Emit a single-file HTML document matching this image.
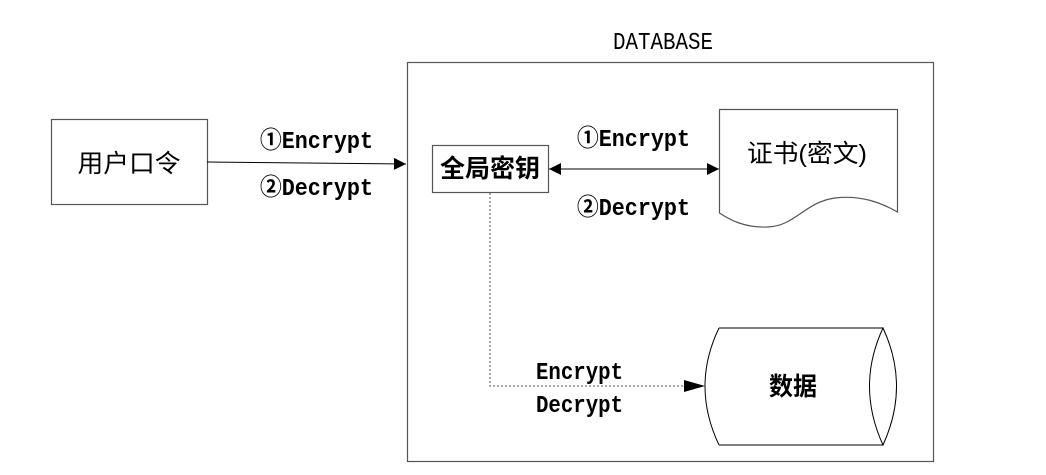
<!DOCTYPE html>
<html><head><meta charset="utf-8"><style>
html,body{margin:0;padding:0;background:#fff;}
svg{display:block;}
.l{font-family:"Liberation Mono","Noto Sans CJK SC",monospace;font-size:24px;fill:#000;font-weight:bold;}
.c{font-family:"Liberation Sans","Noto Sans CJK SC",sans-serif;font-size:25px;fill:#000;font-weight:bold;}
</style></head><body>
<svg width="1046" height="475" viewBox="0 0 1046 475" xmlns="http://www.w3.org/2000/svg">
<defs>
<marker id="ah" viewBox="0 0 10 10" refX="10" refY="5" markerWidth="20" markerHeight="12" markerUnits="userSpaceOnUse" orient="auto-start-reverse"><path d="M0,0 L10,5 L0,10 z" fill="#000"/></marker>
</defs>
<text class="l" x="613" y="49" textLength="100" lengthAdjust="spacingAndGlyphs" style="font-weight:normal">DATABASE</text>
<rect x="407.5" y="62.5" width="526" height="399" fill="none" stroke="#555" stroke-width="1.2"/>
<rect x="51.5" y="119.5" width="156" height="85" fill="none" stroke="#555" stroke-width="1.2"/>
<text class="c" x="129" y="172" text-anchor="middle" style="font-weight:normal" textLength="103" lengthAdjust="spacingAndGlyphs">用户口令</text>
<line x1="207" y1="162" x2="406" y2="164" stroke="#000" stroke-width="1" marker-end="url(#ah)"/>
<text class="l" x="260" y="148" textLength="113" lengthAdjust="spacingAndGlyphs">①Encrypt</text>
<text class="l" x="260" y="195" textLength="113" lengthAdjust="spacingAndGlyphs">②Decrypt</text>
<rect x="432.5" y="145.5" width="116" height="47" fill="none" stroke="#555" stroke-width="1.2"/>
<text class="c" x="490" y="177" text-anchor="middle" textLength="100" lengthAdjust="spacingAndGlyphs">全局密钥</text>
<line x1="549" y1="169" x2="719" y2="169" stroke="#000" stroke-width="1" marker-start="url(#ah)" marker-end="url(#ah)"/>
<text class="l" x="577" y="146" textLength="113" lengthAdjust="spacingAndGlyphs">①Encrypt</text>
<text class="l" x="577" y="215" textLength="113" lengthAdjust="spacingAndGlyphs">②Decrypt</text>
<path d="M719.5,109.5 L897.5,109.5 L897.5,212 C880,202 860,195 835,198 C805,202 795,226 768,227 C745,228 730,220 719.5,213 Z" fill="none" stroke="#555" stroke-width="1.2"/>
<text class="c" x="807" y="162" text-anchor="middle" style="font-weight:normal" textLength="120" lengthAdjust="spacingAndGlyphs">证书(密文)</text>
<polyline points="490,193 490,386 704,386" fill="none" stroke="#555" stroke-width="1" stroke-dasharray="2,2"/>
<path d="M684,380 L705,386 L684,392 z" fill="#000"/>
<text class="l" x="536" y="379" textLength="87" lengthAdjust="spacingAndGlyphs">Encrypt</text>
<text class="l" x="536" y="412" textLength="87" lengthAdjust="spacingAndGlyphs">Decrypt</text>
<path d="M719,328 L883,328 M719,445 L883,445 M719,328 Q691,386 719,445" fill="none" stroke="#000" stroke-width="1"/>
<path d="M883,328 Q910,386 883,445 Q856,386 883,328 Z" fill="none" stroke="#000" stroke-width="1"/>
<text class="c" x="793" y="395" text-anchor="middle" textLength="48" lengthAdjust="spacingAndGlyphs">数据</text>
</svg>
</body></html>
